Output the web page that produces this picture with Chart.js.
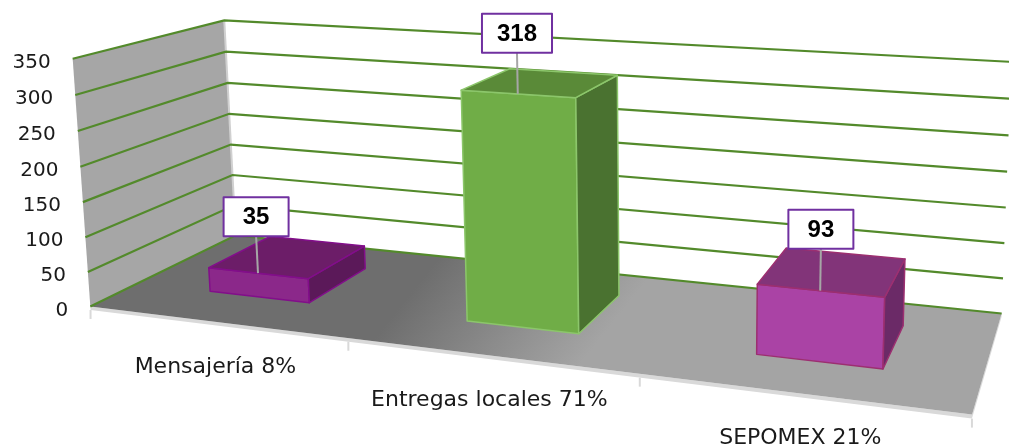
<!DOCTYPE html>
<html>
<head>
<meta charset="utf-8">
<script src="https://cdn.jsdelivr.net/npm/chart.js@4.4.1/dist/chart.umd.min.js"></script>
<style>
    html, body { margin: 0; padding: 0; background: #fff; }
    #wrap { width: 1009px; height: 444px; }
</style>
</head>
<body>
<div id="wrap"><canvas id="chart"></canvas></div>
<script>
// data
const categories = ['Mensajería 8%', 'Entregas locales 71%', 'SEPOMEX 21%'];
const values = [35, 318, 93];
const yMin = 0;
const yMax = 350;
const yStep = 50;

// bar colours (front, top, side, edge)
const frontColors = ['#8B288A', '#70AD47', '#AA43A5'];
const topColors = ['#6C1D68', '#5A8A38', '#823479'];
const sideColors = ['#5B1959', '#4A7230', '#6B2A67'];
const edgeColors = ['#820E8A', '#8CC66B', '#9C2F70'];

// where the 3d box lands on screen: [u, v, w, screenX, screenY]
// u = along categories, v = value height, w = depth (0 front, 1 back)
const frame = [
    [0, 0, 0, 92, 306],
    [0, 1, 0, 71, 59],
    [0, 0, 1, 234, 236],
    [0, 1, 1, 226, 20],
    [1, 0, 1, 1002, 313],
    [1, 1, 1, 1011, 62],
    [1, 0, 0, 972, 415],
    [1 / 3, 0, 0, 348, 338],
    [2 / 3, 0, 0, 640, 374]
];
const barDepth = [0.3, 0.75];

function fitProjection(pairs) {
    const A = [], b = [];
    pairs.forEach(([u, v, w, sx, sy]) => {
        const X = (sx - 500) / 500, Y = (sy - 220) / 500;
        A.push([u, v, w, 1, 0, 0, 0, 0, -X * u, -X * v, -X * w]); b.push(X);
        A.push([0, 0, 0, 0, u, v, w, 1, -Y * u, -Y * v, -Y * w]); b.push(Y);
    });
    const M = [], r = [];
    for (let i = 0; i < 11; i++) { M.push(new Array(11).fill(0)); r.push(0); }
    for (let k = 0; k < A.length; k++) {
        for (let i = 0; i < 11; i++) {
            r[i] += A[k][i] * b[k];
            for (let j = 0; j < 11; j++) M[i][j] += A[k][i] * A[k][j];
        }
    }
    for (let c = 0; c < 11; c++) {
        let p = c;
        for (let i = c + 1; i < 11; i++) if (Math.abs(M[i][c]) > Math.abs(M[p][c])) p = i;
        [M[c], M[p]] = [M[p], M[c]];
        [r[c], r[p]] = [r[p], r[c]];
        for (let i = 0; i < 11; i++) {
            if (i === c) continue;
            const f = M[i][c] / M[c][c];
            for (let j = c; j < 11; j++) M[i][j] -= f * M[c][j];
            r[i] -= f * r[c];
        }
    }
    const p = r.map((x, i) => x / M[i][i]);
    return (u, v, w) => {
        const d = p[8] * u + p[9] * v + p[10] * w + 1;
        return {
            x: 500 + 500 * (p[0] * u + p[1] * v + p[2] * w + p[3]) / d,
            y: 220 + 500 * (p[4] * u + p[5] * v + p[6] * w + p[7]) / d
        };
    };
}
const P = fitProjection(frame);

function poly(ctx, pts, fill, stroke, lw) {
    ctx.beginPath();
    pts.forEach((pt, i) => i ? ctx.lineTo(pt.x, pt.y) : ctx.moveTo(pt.x, pt.y));
    ctx.closePath();
    if (fill) { ctx.fillStyle = fill; ctx.fill(); }
    if (stroke) { ctx.strokeStyle = stroke; ctx.lineWidth = lw || 1; ctx.lineJoin = 'round'; ctx.stroke(); }
}

function line(ctx, pts, color, lw) {
    ctx.beginPath();
    pts.forEach((pt, i) => i ? ctx.lineTo(pt.x, pt.y) : ctx.moveTo(pt.x, pt.y));
    ctx.strokeStyle = color;
    ctx.lineWidth = lw;
    ctx.stroke();
}

const box3d = {
    id: 'box3d',
    beforeDatasetsDraw(chart) {
        const { ctx, scales: { x, y }, chartArea: a } = chart;
        const V = val => (a.bottom - y.getPixelForValue(val)) / a.height;
        const U = px => (px - a.left) / a.width;
        ctx.save();

        // left wall
        poly(ctx, [P(0, 0, 0), P(0, 1, 0), P(0, 1, 1), P(0, 0, 1)], '#A6A6A6');
        line(ctx, [P(0, 1, 1), P(0, 0, 1)], '#D0D0D0', 2);

        // floor slab
        const t = -0.014;
        poly(ctx, [P(0, 0, 0), P(1, 0, 0), P(1, t, 0), P(0, t, 0)], '#D9D9D9');
        poly(ctx, [P(1, 0, 0), P(1, 0, 1), P(1, t, 1), P(1, t, 0)], '#D9D9D9');
        const g0 = P(0.3, 0, 1), g1 = P(0.6, 0, 0);
        const grad = ctx.createLinearGradient(g0.x, g0.y, g1.x, g1.y);
        grad.addColorStop(0, '#6E6E6E');
        grad.addColorStop(1, '#A4A4A4');
        poly(ctx, [P(0, 0, 0), P(0, 0, 1), P(1, 0, 1), P(1, 0, 0)], grad);

        // category ticks on the front edge
        const half = (x.getPixelForValue(1) - x.getPixelForValue(0)) / 2;
        for (let i = 0; i <= categories.length; i++) {
            const u = U(x.getPixelForValue(Math.min(i, categories.length - 1)) + (i === categories.length ? half : -half));
            const p = P(u, t, 0);
            line(ctx, [p, { x: p.x, y: p.y + 9 }], '#D9D9D9', 2);
        }

        // gridlines + value labels
        ctx.font = '20px "DejaVu Sans"';
        ctx.fillStyle = '#1a1a1a';
        ctx.textAlign = 'right';
        ctx.textBaseline = 'middle';
        y.ticks.forEach(tk => {
            const v = V(tk.value);
            line(ctx, [P(0, v, 0), P(0, v, 1), P(1, v, 1)], '#538A2B', 2.2);
            const p = P(0, v, 0);
            ctx.fillText(String(tk.value), p.x - 22, p.y + 4);
        });

        // category labels
        ctx.font = '22px "DejaVu Sans"';
        ctx.textAlign = 'center';
        categories.forEach((c, i) => {
            const p = P(U(x.getPixelForValue(i)), 0, 0);
            ctx.fillText(c, p.x, p.y + 45);
        });
        ctx.restore();
    },
    afterDatasetsDraw(chart) {
        const { ctx, chartArea: a } = chart;
        const meta = chart.getDatasetMeta(0);
        const [w0, w1] = barDepth;
        ctx.save();
        meta.data.forEach((bar, i) => {
            const u0 = (bar.x - bar.width / 2 - a.left) / a.width;
            const u1 = (bar.x + bar.width / 2 - a.left) / a.width;
            const v = (a.bottom - bar.y) / a.height;
            const edge = edgeColors[i];
            poly(ctx, [P(u0, 0, w0), P(u1, 0, w0), P(u1, v, w0), P(u0, v, w0)], frontColors[i], edge, 1.5);
            poly(ctx, [P(u1, 0, w0), P(u1, 0, w1), P(u1, v, w1), P(u1, v, w0)], sideColors[i], edge, 1.5);
            poly(ctx, [P(u0, v, w0), P(u1, v, w0), P(u1, v, w1), P(u0, v, w1)], topColors[i], edge, 1.5);
        });

        // data labels, leader rises straight up in 3d from the bar's front top edge
        ctx.font = 'bold 24px "Liberation Sans"';
        ctx.textAlign = 'center';
        ctx.textBaseline = 'middle';
        meta.data.forEach((bar, i) => {
            const uc = (bar.x - a.left) / a.width;
            const v = (a.bottom - bar.y) / a.height;
            const p = P(uc, v, w0);
            const q = P(uc, v + 0.155, w0);
            const text = String(values[i]);
            const bw = Math.max(65, ctx.measureText(text).width + 30), bh = 39;
            const by = q.y - bh;
            line(ctx, [p, q], '#A6A6A6', 2);
            ctx.fillStyle = '#fff';
            ctx.fillRect(q.x - bw / 2, by, bw, bh);
            ctx.strokeStyle = '#7030A0';
            ctx.lineWidth = 2;
            ctx.strokeRect(q.x - bw / 2, by, bw, bh);
            ctx.fillStyle = '#000';
            ctx.fillText(text, q.x, by + bh / 2 + 1);
        });
        ctx.restore();
    }
};

new Chart(document.getElementById('chart'), {
    type: 'bar',
    data: {
        labels: categories,
        datasets: [{
            data: values,
            backgroundColor: 'rgba(0,0,0,0)',
            barPercentage: 0.4,
            categoryPercentage: 1
        }]
    },
    options: {
        responsive: true,
        maintainAspectRatio: false,
        animation: false,
        layout: { padding: 0 },
        scales: {
            x: { display: false },
            y: { display: false, min: yMin, max: yMax, ticks: { stepSize: yStep } }
        },
        plugins: {
            legend: { display: false },
            tooltip: { enabled: false }
        }
    },
    plugins: [box3d]
});
</script>
</body>
</html>
